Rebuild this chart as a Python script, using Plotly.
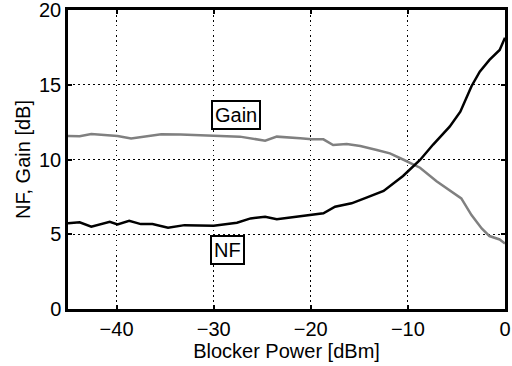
import plotly.graph_objects as go

gain_x = [-45, -43.8, -42.6, -39.9, -38.5, -37.0, -35.4, -33.4, -30.0, -27.3, -24.7, -23.5,
          -21.1, -19.9, -18.7, -17.7, -16.3, -14.9, -13.2, -11.85, -10.5, -8.75, -7.05,
          -5.7, -4.5, -3.45, -2.4, -1.6, -0.55, 0]
gain_y = [11.57, 11.55, 11.7, 11.57, 11.4, 11.55, 11.69, 11.67, 11.6, 11.53, 11.26, 11.53,
          11.42, 11.35, 11.35, 10.97, 11.04, 10.9, 10.64, 10.41, 10.0, 9.45, 8.55,
          7.96, 7.4, 6.28, 5.39, 4.88, 4.65, 4.38]

nf_x = [-45, -43.8, -42.6, -40.7, -39.9, -38.7, -37.5, -36.3, -34.7, -33.0, -30.0, -27.6,
        -26.2, -24.7, -23.5, -21.1, -18.7, -17.5, -15.8, -14.2, -12.5, -10.5, -8.75, -7.4,
        -5.7, -4.6, -3.45, -2.6, -1.6, -0.55, 0]
nf_y = [5.73, 5.8, 5.5, 5.83, 5.66, 5.9, 5.68, 5.68, 5.43, 5.61, 5.57, 5.77,
        6.06, 6.17, 6.0, 6.22, 6.4, 6.84, 7.07, 7.47, 7.9, 8.9, 9.97, 11.0,
        12.2, 13.2, 14.9, 15.88, 16.66, 17.33, 18.15]

x_ticks = [-40, -30, -20, -10, 0]
y_ticks = [0, 5, 10, 15, 20]

labels = [("Gain", -27.7, 12.98), ("NF", -28.55, 3.96)]

font = "Liberation Sans, Arial, Helvetica, sans-serif"
fsize = 20

fig = go.Figure()
fig.add_trace(go.Scatter(x=gain_x, y=gain_y, mode="lines",
                         line=dict(color="#808080", width=2.5), showlegend=False))
fig.add_trace(go.Scatter(x=nf_x, y=nf_y, mode="lines",
                         line=dict(color="black", width=2.5), showlegend=False))

for text, ax, ay in labels:
    fig.add_annotation(x=ax, y=ay, text=text, showarrow=False,
                       font=dict(family=font, size=fsize, color="black"),
                       bgcolor="white", bordercolor="black", borderwidth=2, borderpad=2)

axis_common = dict(showline=True, linecolor="black", linewidth=2.5, mirror="ticks",
                   ticks="inside", ticklen=4, tickcolor="black", tickwidth=2,
                   showgrid=True, gridcolor="black", gridwidth=1, griddash="1.5px,3.5px",
                   zeroline=False, ticklabeloverflow="allow", automargin=False,
                   tickfont=dict(family=font, size=fsize, color="black"))

fig.update_xaxes(range=[-45, 0], tickvals=x_ticks,
                 title=dict(text="Blocker Power [dBm]", font=dict(family=font, size=fsize, color="black"),
                            standoff=0),
                 **axis_common)
fig.update_yaxes(range=[0, 20], tickvals=y_ticks,
                 title=dict(text="NF, Gain [dB]", font=dict(family=font, size=fsize, color="black"),
                            standoff=4),
                 **axis_common)

fig.update_layout(width=512, height=366, margin=dict(l=68, r=7, t=10, b=57),
                  plot_bgcolor="white", paper_bgcolor="white")

fig.write_html("out.html")
